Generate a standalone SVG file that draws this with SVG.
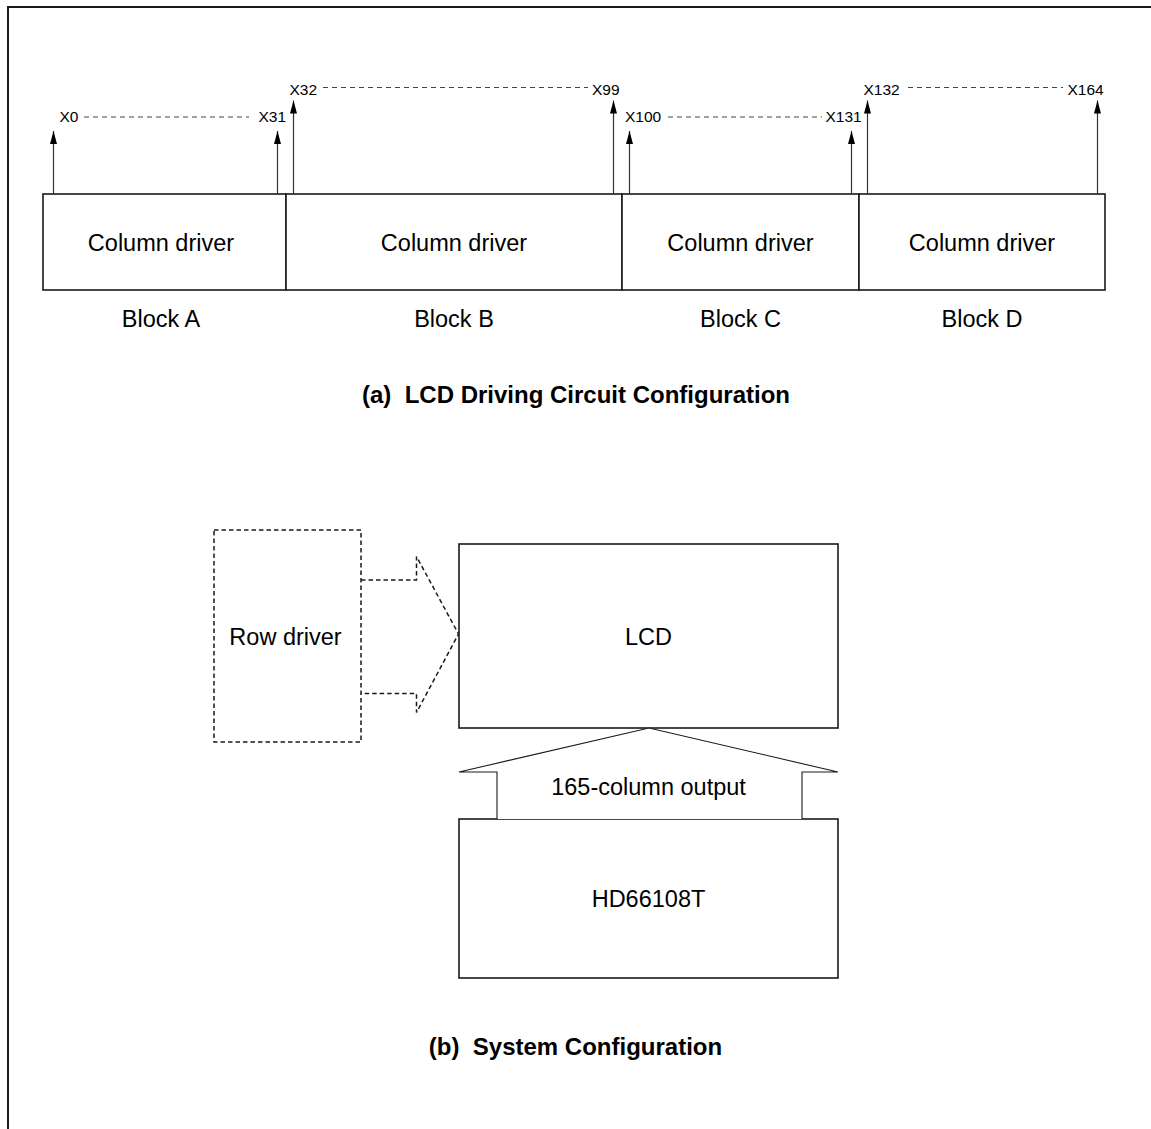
<svg xmlns="http://www.w3.org/2000/svg" width="1151" height="1129" viewBox="0 0 1151 1129">
  <defs>
    <style>
      .box { fill: #fff; stroke: #1a1a1a; stroke-width: 1.6; }
      .dbox { fill: none; stroke: #1a1a1a; stroke-width: 1.5; stroke-dasharray: 4.5 3; }
      .pin { stroke: #333; stroke-width: 1.2; fill: none; }
      .span { stroke: #444; stroke-width: 1; stroke-dasharray: 5 4; fill: none; }
      .arrow { fill: #fff; stroke: #1a1a1a; stroke-width: 1.1; }
      .lbl { font-family: "Liberation Sans", Arial, sans-serif; font-size: 23.5px; fill: #000; }
      .pinlbl { font-family: "Liberation Sans", Arial, sans-serif; font-size: 15.5px; fill: #000; }
      .title { font-family: "Liberation Sans", Arial, sans-serif; font-size: 24px; font-weight: bold; fill: #000; }
    </style>
    <marker id="head" viewBox="0 0 13 7" refX="13" refY="3.5" markerWidth="13" markerHeight="7" markerUnits="userSpaceOnUse" orient="auto">
      <path d="M13 3.5 L0 0 L0 7 Z" fill="#000"/>
    </marker>
  </defs>

  <!-- page frame -->
  <path d="M8 1129 V7 H1151" fill="none" stroke="#1a1a1a" stroke-width="2"/>

  <!-- (a) column driver blocks -->
  <g id="block-a">
    <rect class="box" x="43" y="194" width="243" height="96"/>
    <text class="lbl" x="161" y="251" text-anchor="middle">Column driver</text>
    <text class="lbl" x="161" y="327" text-anchor="middle">Block A</text>
  </g>
  <g id="block-b">
    <rect class="box" x="286" y="194" width="336" height="96"/>
    <text class="lbl" x="454" y="251" text-anchor="middle">Column driver</text>
    <text class="lbl" x="454" y="327" text-anchor="middle">Block B</text>
  </g>
  <g id="block-c">
    <rect class="box" x="622" y="194" width="237" height="96"/>
    <text class="lbl" x="740.5" y="251" text-anchor="middle">Column driver</text>
    <text class="lbl" x="740.5" y="327" text-anchor="middle">Block C</text>
  </g>
  <g id="block-d">
    <rect class="box" x="859" y="194" width="246" height="96"/>
    <text class="lbl" x="982" y="251" text-anchor="middle">Column driver</text>
    <text class="lbl" x="982" y="327" text-anchor="middle">Block D</text>
  </g>

  <!-- column output pins -->
  <g id="pins">
    <line class="pin" x1="53.5" y1="194" x2="53.5" y2="131" marker-end="url(#head)"/>
    <line class="pin" x1="277.5" y1="194" x2="277.5" y2="131" marker-end="url(#head)"/>
    <line class="pin" x1="293.5" y1="194" x2="293.5" y2="100.5" marker-end="url(#head)"/>
    <line class="pin" x1="613.5" y1="194" x2="613.5" y2="100.5" marker-end="url(#head)"/>
    <line class="pin" x1="629.5" y1="194" x2="629.5" y2="131" marker-end="url(#head)"/>
    <line class="pin" x1="851.5" y1="194" x2="851.5" y2="131" marker-end="url(#head)"/>
    <line class="pin" x1="867.5" y1="194" x2="867.5" y2="100.5" marker-end="url(#head)"/>
    <line class="pin" x1="1097.5" y1="194" x2="1097.5" y2="100.5" marker-end="url(#head)"/>

    <line class="span" x1="84" y1="117" x2="249" y2="117"/>
    <line class="span" x1="323" y1="87.5" x2="588" y2="87.5"/>
    <line class="span" x1="668" y1="117" x2="822" y2="117"/>
    <line class="span" x1="908" y1="87.5" x2="1063" y2="87.5"/>

    <text class="pinlbl" x="59.5" y="122">X0</text>
    <text class="pinlbl" x="258.5" y="122">X31</text>
    <text class="pinlbl" x="289.5" y="95">X32</text>
    <text class="pinlbl" x="592" y="95">X99</text>
    <text class="pinlbl" x="625" y="122">X100</text>
    <text class="pinlbl" x="825.5" y="122">X131</text>
    <text class="pinlbl" x="863.5" y="95">X132</text>
    <text class="pinlbl" x="1067.5" y="95">X164</text>
  </g>

  <text class="title" x="576" y="403" text-anchor="middle" xml:space="preserve">(a)  LCD Driving Circuit Configuration</text>

  <!-- (b) system configuration -->
  <g id="row-driver">
    <rect class="dbox" x="214" y="530" width="147" height="212"/>
    <text class="lbl" x="285.5" y="645" text-anchor="middle">Row driver</text>
  </g>

  <g id="lcd">
    <rect class="box" x="459" y="544" width="379" height="184"/>
    <text class="lbl" x="648.5" y="645" text-anchor="middle">LCD</text>
  </g>

  <g id="hd66108t">
    <rect class="box" x="459" y="819" width="379" height="159"/>
    <text class="lbl" x="648.5" y="907" text-anchor="middle">HD66108T</text>
  </g>

  <g id="connectors">
    <!-- row driver to LCD (dashed block arrow) -->
    <path class="dbox" d="M361 580 H416.5 V556.5 L458.5 634 L416.5 712.5 V693.5 H361"/>
    <!-- HD66108T to LCD (block arrow) -->
    <path class="arrow" d="M497 819 V772 H459 L649 728 L838 772 H802 V819"/>
    <text class="lbl" x="648.5" y="795" text-anchor="middle">165-column output</text>
  </g>

  <text class="title" x="575.5" y="1055" text-anchor="middle" xml:space="preserve">(b)  System Configuration</text>
</svg>
